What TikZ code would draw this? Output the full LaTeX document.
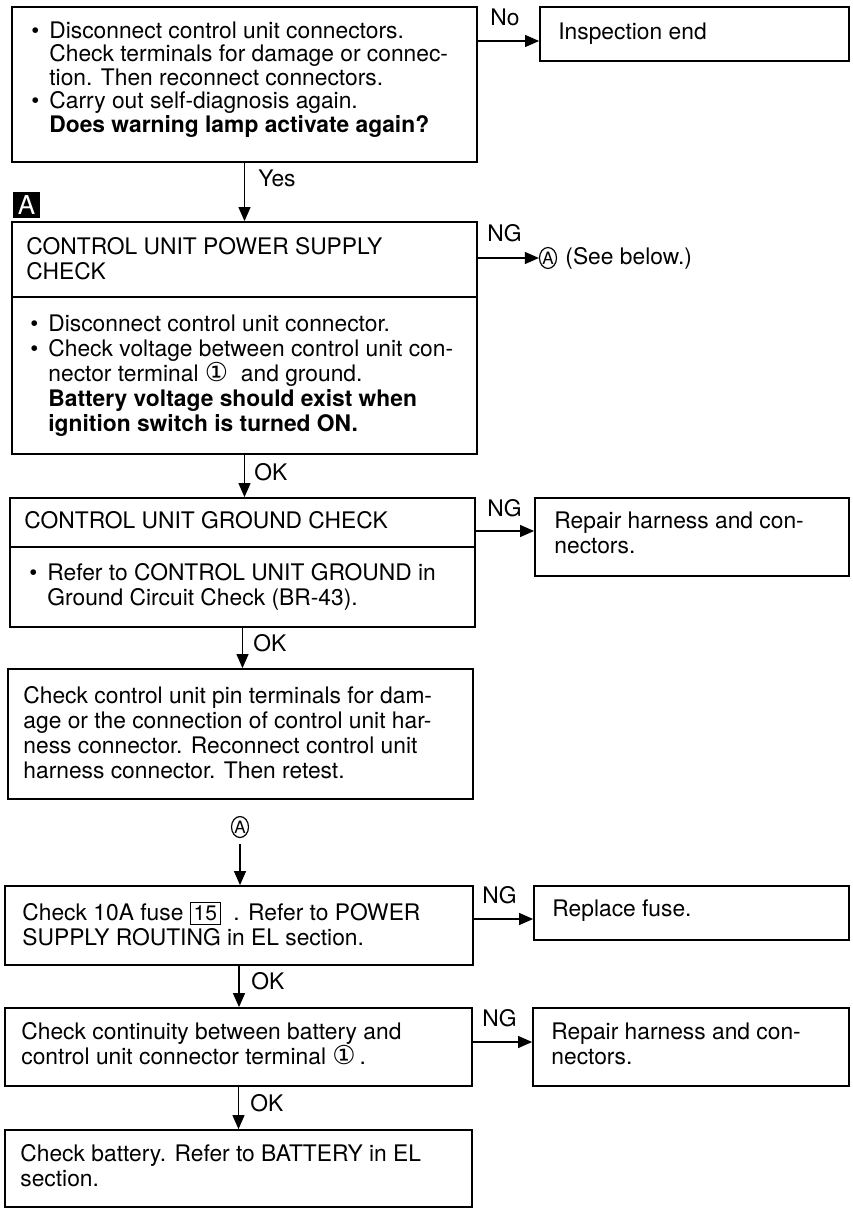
\documentclass[tikz,border=0pt]{standalone}
\usepackage{fontspec}
\setmainfont{TeX Gyre Heros}
\newfontfamily\simbolos{DejaVu Sans}
\usetikzlibrary{arrows.meta,fit,shapes.geometric}

\tikzset{
  caja/.style={draw, line width=0.9pt, inner sep=0pt},
  texto/.style={anchor=north west, inner sep=0pt, align=left,
    font=\fontsize{11.4pt}{12.5pt}\selectfont},
  etq/.style={inner sep=0pt, font=\fontsize{11.4pt}{12.5pt}\selectfont},
  marca/.style={fill=black, text=white, inner sep=0pt, minimum width=13.5pt,
    minimum height=13pt, font=\fontsize{13pt}{13pt}\selectfont},
  circulo/.style={ellipse, draw, line width=0.6pt, inner sep=0pt, minimum width=8.5pt,
    minimum height=10.5pt, font=\fontsize{8.5pt}{8.5pt}\selectfont},
  flecha/.style={line width=0.6pt, -{Triangle[length=7pt,width=6pt]}},
}
\newcommand{\vin}{\makebox[9pt][l]{\textbullet}}
\newcommand{\sig}{\hspace*{9pt}}
\newcommand{\uno}{{\simbolos\fontsize{13pt}{13pt}\selectfont ①}}
\newcommand{\fusible}[1]{{\setlength{\fboxsep}{1.5pt}\setlength{\fboxrule}{0.4pt}\fbox{\fontsize{10.5pt}{10.5pt}\selectfont #1}}}

\begin{document}
\begin{tikzpicture}[x=0.5pt, y=-0.5pt]
    \useasboundingbox (0,0) rectangle (852,1209);

    % Primer paso
    \node[caja, fit={(12,7) (477,162)}] (b1) {};
    \node[texto, font=\fontsize{11.4pt}{11.7pt}\selectfont] (b1t) at (31,21.5) {%
        \vin Disconnect control unit connectors.\\
        \sig Check terminals for damage or connec-\\
        \sig tion. Then reconnect connectors.\\
        \vin Carry out self-diagnosis again.\\
        \sig\textbf{Does warning lamp activate again?}};
    \node[caja, fit={(540,7) (849,61)}] (fin) {};
    \node[texto] (fint) at (558,22.5) {Inspection end};

    % Alimentacion
    \node[marca] (mA) at (26.5,205) {A};
    \node[caja, fit={(12,222) (477,297)}] (b2a) {};
    \node[texto] (b2at) at (26,237.5) {CONTROL UNIT POWER SUPPLY\\ CHECK};
    \node[caja, fit={(12,297) (477,454)}] (b2b) {};
    \node[texto] (b2bt) at (30,314.5) {%
        \vin Disconnect control unit connector.\\
        \vin Check voltage between control unit con-\\
        \sig nector terminal \uno\ \ and ground.\\
        \sig\textbf{Battery voltage should exist when}\\
        \sig\textbf{ignition switch is turned ON.}};
    \node[circulo] (verA) at (548,258) {A};
    \node[etq, anchor=west] (verAt) at (565,258) {(See below.)};

    % Masa
    \node[caja, fit={(10,498) (475,547)}] (b3a) {};
    \node[texto] (b3at) at (24,511.5) {CONTROL UNIT GROUND CHECK};
    \node[caja, fit={(10,547) (475,627)}] (b3b) {};
    \node[texto] (b3bt) at (29,563.5) {%
        \vin Refer to CONTROL UNIT GROUND in\\
        \sig Ground Circuit Check (BR-43).};
    \node[caja, fit={(535,498) (849,576)}] (rep1) {};
    \node[texto] (rep1t) at (554,511.5) {Repair harness and con-\\ nectors.};

    \node[caja, fit={(8,669) (473,799)}] (b4) {};
    \node[texto] (b4t) at (23,686.5) {%
        Check control unit pin terminals for dam-\\
        age or the connection of control unit har-\\
        ness connector. Reconnect control unit\\
        harness connector. Then retest.};

    % Rama A
    \node[circulo] (cA) at (240,827) {A};
    \node[caja, fit={(5,886) (473,965)}] (b5) {};
    \node[texto] (b5t) at (22,901.5) {%
        Check 10A fuse \fusible{15}\ \ . Refer to POWER\\
        SUPPLY ROUTING in EL section.};
    \node[caja, fit={(534,886) (849,940)}] (fus) {};
    \node[texto] (fust) at (552,899.5) {Replace fuse.};

    \node[caja, fit={(5,1008) (472,1086)}] (b6) {};
    \node[texto] (b6t) at (21,1022.5) {%
        Check continuity between battery and\\
        control unit connector terminal \uno\,.};
    \node[caja, fit={(533,1008) (849,1086)}] (rep2) {};
    \node[texto] (rep2t) at (551,1022.5) {Repair harness and con-\\ nectors.};

    \node[caja, fit={(5,1130) (472,1207)}] (b7) {};
    \node[texto] (b7t) at (20,1144.5) {%
        Check battery. Refer to BATTERY in EL\\
        section.};

    % Flechas verticales
    \draw[flecha] (b1.south) -- (b1.south |- b2a.north);
    \draw[flecha] (b2b.south) -- (b2b.south |- b3a.north);
    \draw[flecha] (b3b.south) -- (b3b.south |- b4.north);
    \draw[flecha, shorten <=3pt] (cA.south) -- (cA.south |- b5.north);
    \draw[flecha] (b5.south) -- (b5.south |- b6.north);
    \draw[flecha] (b6.south) -- (b6.south |- b7.north);

    % Flechas horizontales
    \coordinate (yno) at (0,41);
    \coordinate (yng3) at (0,531);
    \coordinate (yng5) at (0,919);
    \coordinate (yng6) at (0,1042);
    \draw[flecha] (b1.east |- yno) -- (fin.west |- yno);
    \draw[flecha] (b2a.east |- verA.west) -- (verA.west);
    \draw[flecha] (b3a.east |- yng3) -- (rep1.west |- yng3);
    \draw[flecha] (b5.east |- yng5) -- (fus.west |- yng5);
    \draw[flecha] (b6.east |- yng6) -- (rep2.west |- yng6);

    % Etiquetas
    \node[etq, anchor=west] (lno) at (490,17) {No};
    \node[etq, anchor=west] (lyes) at (258,178) {Yes};
    \node[etq, anchor=west] (lng2) at (487,233) {NG};
    \node[etq, anchor=west] (lok1) at (254,472) {OK};
    \node[etq, anchor=west] (lng3) at (487,508) {NG};
    \node[etq, anchor=west] (lok2) at (253,643) {OK};
    \node[etq, anchor=west] (lng5) at (482,895) {NG};
    \node[etq, anchor=west] (lok3) at (251,981) {OK};
    \node[etq, anchor=west] (lng6) at (482,1018) {NG};
    \node[etq, anchor=west] (lok4) at (250,1103) {OK};
\end{tikzpicture}
\end{document}
